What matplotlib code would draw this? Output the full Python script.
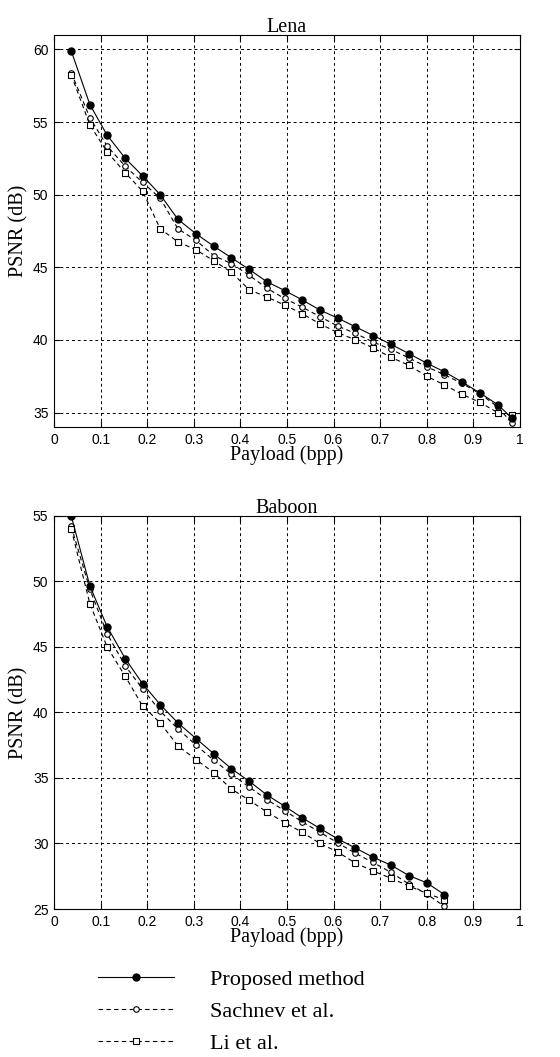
import matplotlib
matplotlib.use("Agg")
import matplotlib.pyplot as plt

# payload (bpp) and PSNR (dB)
lena_x = [0.037, 0.077, 0.114, 0.153, 0.190, 0.228, 0.266, 0.305, 0.343, 0.381, 0.419, 0.457, 0.495,
          0.533, 0.571, 0.609, 0.647, 0.685, 0.723, 0.762, 0.800, 0.838, 0.876, 0.914, 0.952, 0.982]
lena_prop = [59.9, 56.2, 54.1, 52.5, 51.3, 50.0, 48.3, 47.3, 46.45, 45.65, 44.85, 44.0, 43.4,
             42.75, 42.05, 41.5, 40.9, 40.3, 39.7, 39.05, 38.4, 37.8, 37.1, 36.35, 35.55, 34.65]
lena_sach = [58.4, 55.3, 53.35, 51.95, 50.85, 49.75, 47.65, 46.85, 45.8, 45.25, 44.45, 43.55, 42.85,
             42.25, 41.6, 40.95, 40.45, 39.85, 39.35, 38.75, 38.15, 37.6, 37.0, 36.3, 35.4, 34.3]
lena_li = [58.25, 54.8, 52.95, 51.5, 50.25, 47.65, 46.75, 46.2, 45.45, 44.65, 43.45, 42.95, 42.4,
           41.8, 41.1, 40.5, 40.0, 39.45, 38.8, 38.25, 37.5, 36.9, 36.25, 35.7, 35.0, 34.8]

baboon_x = [0.037, 0.077, 0.114, 0.153, 0.190, 0.228, 0.266, 0.305, 0.343, 0.381, 0.419,
            0.457, 0.495, 0.533, 0.571, 0.609, 0.647, 0.685, 0.723, 0.762, 0.800, 0.838]
baboon_prop = [55.0, 49.65, 46.55, 44.1, 42.2, 40.6, 39.2, 38.0, 36.85, 35.7, 34.75,
               33.7, 32.85, 31.95, 31.15, 30.35, 29.65, 28.95, 28.35, 27.55, 27.0, 26.1]
baboon_sach = [54.2, 49.4, 46.0, 43.55, 41.8, 40.1, 38.75, 37.5, 36.35, 35.3, 34.3,
               33.35, 32.5, 31.65, 30.85, 30.05, 29.25, 28.55, 27.8, 26.9, 26.15, 25.2]
baboon_li = [54.0, 48.3, 45.0, 42.75, 40.5, 39.2, 37.45, 36.4, 35.4, 34.15, 33.3,
             32.4, 31.6, 30.85, 30.0, 29.35, 28.5, 27.9, 27.35, 26.75, 26.2, 25.7]

labels = ["Proposed method", "Sachnev et al.", "Li et al."]
xticks = [0, 0.1, 0.2, 0.3, 0.4, 0.5, 0.6, 0.7, 0.8, 0.9, 1]
xticklabels = ["0", "0.1", "0.2", "0.3", "0.4", "0.5", "0.6", "0.7", "0.8", "0.9", "1"]

serif = "Liberation Serif"
sans = "Liberation Sans"

fig = plt.figure(figsize=(5.6, 10.57), dpi=100)
ax1 = fig.add_axes([0.0964, 0.596, 0.832, 0.371])
ax2 = fig.add_axes([0.0964, 0.140, 0.832, 0.372])


def draw(ax, x, prop, sach, li, title, ylim, yticks):
    h1, = ax.plot(x, prop, color='black', lw=0.8, marker='o', ms=5,
                  mfc='black', mec='black', label=labels[0], zorder=4)
    h2, = ax.plot(x, sach, color='black', lw=0.8, ls=(0, (4, 3)), marker='o', ms=4,
                  mfc='white', mec='black', mew=0.8, label=labels[1], zorder=3)
    h3, = ax.plot(x, li, color='black', lw=0.8, ls=(0, (4, 3)), marker='s', ms=4,
                  mfc='white', mec='black', mew=0.8, label=labels[2], zorder=3)
    ax.set_xlim(0, 1)
    ax.set_ylim(*ylim)
    ax.set_xticks(xticks)
    ax.set_xticklabels(xticklabels, fontfamily=sans, fontsize=10)
    ax.set_yticks(yticks)
    ax.set_yticklabels([str(v) for v in yticks], fontfamily=sans, fontsize=10)
    ax.tick_params(direction='in', length=4, width=0.8, top=True, right=True, pad=4)
    ax.grid(True, color='black', ls=(0, (3, 3)), lw=0.7)
    ax.set_title(title, fontfamily=serif, fontsize=14.5, pad=2)
    ax.set_xlabel("Payload (bpp)", fontfamily=serif, fontsize=14.5, labelpad=-1)
    ax.set_ylabel("PSNR (dB)", fontfamily=serif, fontsize=14.5, labelpad=3)
    for s in ax.spines.values():
        s.set_linewidth(0.8)
    return [h1, h2, h3]


handles = draw(ax1, lena_x, lena_prop, lena_sach, lena_li, "Lena", (34, 61), [35, 40, 45, 50, 55, 60])
draw(ax2, baboon_x, baboon_prop, baboon_sach, baboon_li, "Baboon", (25, 55), [25, 30, 35, 40, 45, 50, 55])

fig.legend(handles, labels, loc='upper left', bbox_to_anchor=(0.14, 0.102),
           frameon=False, numpoints=1, handlelength=3.4, handletextpad=1.6,
           labelspacing=0.52, prop={'family': serif, 'size': 16})

fig.savefig("out.png", dpi=100)
